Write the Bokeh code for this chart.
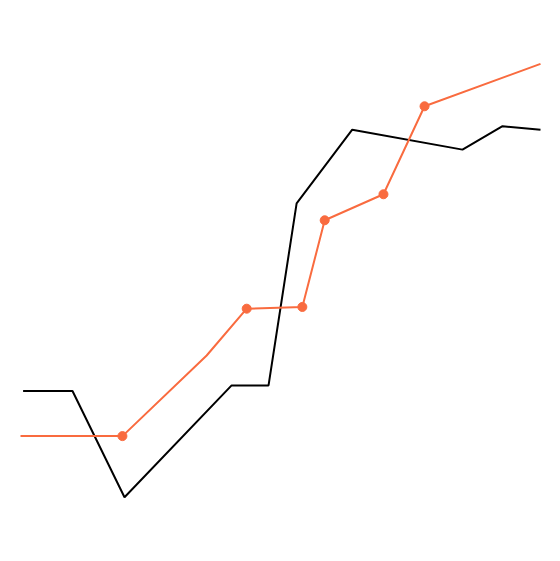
from bokeh.plotting import figure
from bokeh.models import Range1d
from bokeh.embed import file_html
from bokeh.resources import INLINE

# Black series
black_x = [0.5, 10.0, 20.0, 40.6, 47.7, 53.1, 63.8, 85.0, 92.7, 100.0]
black_y = [24.5, 24.5, 0.0, 25.8, 25.8, 67.8, 84.8, 80.2, 85.6, 84.8]

# Orange series
orange_x = [0.0, 19.6, 35.8, 43.5, 54.2, 58.5, 69.8, 77.7, 100.0]
orange_y = [14.1, 14.1, 32.7, 43.5, 43.9, 63.9, 69.9, 90.2, 100.0]

# Orange markers (subset of the orange series)
marker_x = [19.6, 43.5, 54.2, 58.5, 69.8, 77.7]
marker_y = [14.1, 43.5, 43.9, 63.9, 69.9, 90.2]

p = figure(width=544, height=545, output_backend="svg", toolbar_location=None,
           x_range=Range1d(-3.846, 100.769), y_range=Range1d(-11.14, 114.61),
           min_border=0)
p.axis.visible = False
p.grid.visible = False
p.outline_line_color = None
p.background_fill_color = "white"
p.border_fill_color = "white"

p.line(black_x, black_y, line_color="black", line_width=2)
p.line(orange_x, orange_y, line_color="#f96b3f", line_width=2)
p.scatter(marker_x, marker_y, size=9, fill_color="#f96b3f", line_color="#f96b3f")

open("out.html", "w").write(file_html(p, INLINE))
